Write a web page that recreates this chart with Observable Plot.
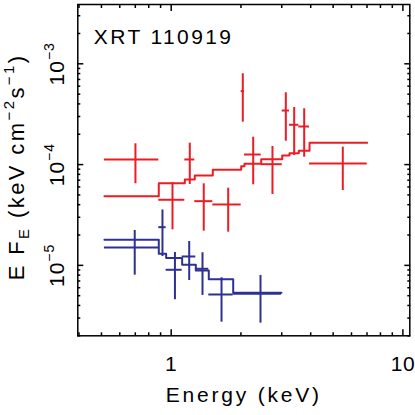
<!DOCTYPE html>
<html><head><meta charset="utf-8">
<script src="https://cdn.jsdelivr.net/npm/d3@7"></script>
<script src="https://cdn.jsdelivr.net/npm/@observablehq/plot@0.6"></script>
<style>
body{margin:0;background:#fff}
#chart svg{display:block}
#chart svg text{letter-spacing:2.4px}
</style>
</head><body><div id="chart"></div>
<script>
// ---------- text ----------
const title = "XRT 110919";
const xLabel = "Energy (keV)";
const yLabel = "E F_{E} (keV cm^{\u22122}s^{\u22121})";
const xMajor = [1, 10];
const xMajorLabels = ["1", "10"];
const xMinor = [0.4, 0.5, 0.6, 0.7, 0.8, 0.9, 2, 3, 4, 5, 6, 7, 8, 9];
const yMajor = [1e-5, 1e-4, 1e-3];
const yMajorLabels = ["10^{\u22125}", "10^{\u22124}", "10^{\u22123}"];
const yMinor = [2e-6,3e-6,4e-6,5e-6,6e-6,7e-6,8e-6,9e-6,
                2e-5,3e-5,4e-5,5e-5,6e-5,7e-5,8e-5,9e-5,
                2e-4,3e-4,4e-4,5e-4,6e-4,7e-4,8e-4,9e-4,
                2e-3,3e-3];

// ---------- red spectrum ----------
const redEdges = [0.515,0.884,1.145,1.264,1.512,2.005,2.072,2.446,3.014,3.241,3.554,3.954,7.015];
const redE     = [0.701,1.013,1.203,1.382,1.762,2.037,2.259,2.736,3.124,3.395,3.75,5.503];
const redF     = [1.124e-4,4.475e-5,1.124e-4,4.335e-5,4.019e-5,5.35e-4,1.259e-4,1.009e-4,3.44e-4,2.482e-4,2.388e-4,1.025e-4];
const redFlo   = [6.45e-5,2.254e-5,6.35e-5,2.184e-5,2.135e-5,2.634e-4,6.30e-5,5.05e-5,1.707e-4,1.231e-4,1.184e-4,5.53e-5];
const redFhi   = [1.608e-4,6.60e-5,1.631e-4,6.45e-5,5.83e-5,7.96e-4,1.870e-4,1.512e-4,5.16e-4,3.686e-4,3.58e-4,1.488e-4];
const redModel = [4.86e-5,6.54e-5,7.11e-5,7.79e-5,8.88e-5,9.64e-5,1.018e-4,1.131e-4,1.231e-4,1.298e-4,1.370e-4,1.645e-4];

// ---------- blue spectrum ----------
const blueEdges = [0.515,0.884,0.951,1.115,1.277,1.453,1.852,2.992];
const blueE     = [0.696,0.917,1.038,1.196,1.365,1.649,2.429];
const blueF     = [1.505e-5,2.393e-5,9.04e-6,1.225e-5,9.25e-6,5.14e-6,5.23e-6];
const blueFlo   = [7.99e-6,1.225e-5,4.56e-6,7.08e-6,5.03e-6,2.73e-6,2.67e-6];
const blueFhi   = [2.219e-5,3.545e-5,1.343e-5,1.726e-5,1.334e-5,7.53e-6,7.94e-6];
const blueModel = [1.795e-5,1.303e-5,1.184e-5,1.014e-5,8.90e-6,7.30e-6,5.35e-6];

const RED = "#ec1c24", BLUE = "#2e3192";

function points(E, edges, F, Flo, Fhi) {
  return E.map((e, i) => ({x: e, x1: edges[i], x2: edges[i + 1], y: F[i], y1: Flo[i], y2: Fhi[i]}));
}
function steps(edges, M) {
  const out = [];
  M.forEach((m, i) => { out.push({x: edges[i], y: m}); out.push({x: edges[i + 1], y: m}); });
  return out;
}
const redPts = points(redE, redEdges, redF, redFlo, redFhi);
const bluePts = points(blueE, blueEdges, blueF, blueFlo, blueFhi);
const redStep = steps(redEdges, redModel);
const blueStep = steps(blueEdges, blueModel);

function spectrum(pts, stp, color) {
  return [
    Plot.ruleY(pts, {y: "y", x1: "x1", x2: "x2", stroke: color, strokeWidth: 2}),
    Plot.ruleX(pts, {x: "x", y1: "y1", y2: "y2", stroke: color, strokeWidth: 2}),
    Plot.line(stp, {x: "x", y: "y", stroke: color, strokeWidth: 2})
  ];
}
const tickOpts = {stroke: "black", strokeWidth: 1.5, fill: "none", label: null};

const chart = Plot.plot({
  width: 415, height: 415,
  marginLeft: 77.3, marginRight: 5.7, marginTop: 4, marginBottom: 79.7,
  x: {type: "log", domain: [0.3953, 10.71], axis: null},
  y: {type: "log", domain: [2.0e-6, 3.877e-3], axis: null},
  style: {fontFamily: "'Liberation Sans', Arial, sans-serif", fontSize: "21px", color: "black", background: "white", overflow: "visible"},
  marks: [
    ...spectrum(bluePts, blueStep, BLUE),
    ...spectrum(redPts, redStep, RED),
    Plot.axisX(xMajor, {anchor: "bottom", tickSize: -6, ...tickOpts}),
    Plot.axisX(xMinor, {anchor: "bottom", tickSize: -3, ...tickOpts}),
    Plot.axisX(xMajor, {anchor: "top", tickSize: -6, ...tickOpts}),
    Plot.axisX(xMinor, {anchor: "top", tickSize: -3, ...tickOpts}),
    Plot.axisY(yMajor, {anchor: "left", tickSize: -6, ...tickOpts}),
    Plot.axisY(yMinor, {anchor: "left", tickSize: -3, ...tickOpts}),
    Plot.axisY(yMajor, {anchor: "right", tickSize: -6, ...tickOpts}),
    Plot.axisY(yMinor, {anchor: "right", tickSize: -3, ...tickOpts}),
    Plot.frame({stroke: "black", strokeWidth: 1.5}),
    Plot.text([title], {text: d => d, frameAnchor: "top-left", textAnchor: "start", lineAnchor: "top", dx: 16, dy: 24.3, fontSize: 21, fill: "black"}),
    Plot.text(xMajor, {x: d => d, text: (d, i) => xMajorLabels[i], frameAnchor: "bottom", textAnchor: "middle", lineAnchor: "bottom", dy: 35.4, fontSize: 21, fill: "black"}),
    Plot.text([xLabel], {text: d => d, frameAnchor: "bottom", textAnchor: "middle", lineAnchor: "bottom", dy: 66.4, fontSize: 21, fill: "black"}),
    Plot.text(yMajor, {y: d => d, text: (d, i) => yMajorLabels[i], frameAnchor: "left", textAnchor: "middle", rotate: -90, lineAnchor: "bottom", dx: -14, fontSize: 21, fill: "black"}),
    Plot.text([yLabel], {text: d => d, frameAnchor: "left", textAnchor: "middle", rotate: -90, lineAnchor: "bottom", dx: -54, dy: -3.2, fontSize: 22, fill: "black"})
  ]
});

// turn ^{..} and _{..} markup into tspans
const SVGNS = "http://www.w3.org/2000/svg";
function richText(el, str, small, raise, drop) {
  el.textContent = "";
  const re = /(\^|_)\{([^}]*)\}/g;
  let last = 0, m, shift = 0;
  const add = (txt, size, dy) => {
    const t = document.createElementNS(SVGNS, "tspan");
    if (size) t.setAttribute("font-size", size);
    if (dy) t.setAttribute("dy", dy);
    t.textContent = txt;
    el.appendChild(t);
  };
  while ((m = re.exec(str))) {
    if (m.index > last) { add(str.slice(last, m.index), null, -shift); shift = 0; }
    const d = m[1] === "^" ? -raise : drop;
    add(m[2], small, d - shift);
    shift = d;
    last = re.lastIndex;
  }
  if (last < str.length) add(str.slice(last), null, -shift);
}
d3.select(chart).selectAll("text").each(function () {
  const s = this.textContent;
  if (s === yLabel) richText(this, s, 15, 10, 5);
  else if (yMajorLabels.includes(s)) { richText(this, s, 14, 10, 0); this.style.letterSpacing = "1px"; }
  else if (xMajorLabels.includes(s)) this.style.letterSpacing = "0.5px";
  else if (s === xLabel) this.style.letterSpacing = "2.8px";
});
document.getElementById("chart").appendChild(chart);
</script>
</body></html>
